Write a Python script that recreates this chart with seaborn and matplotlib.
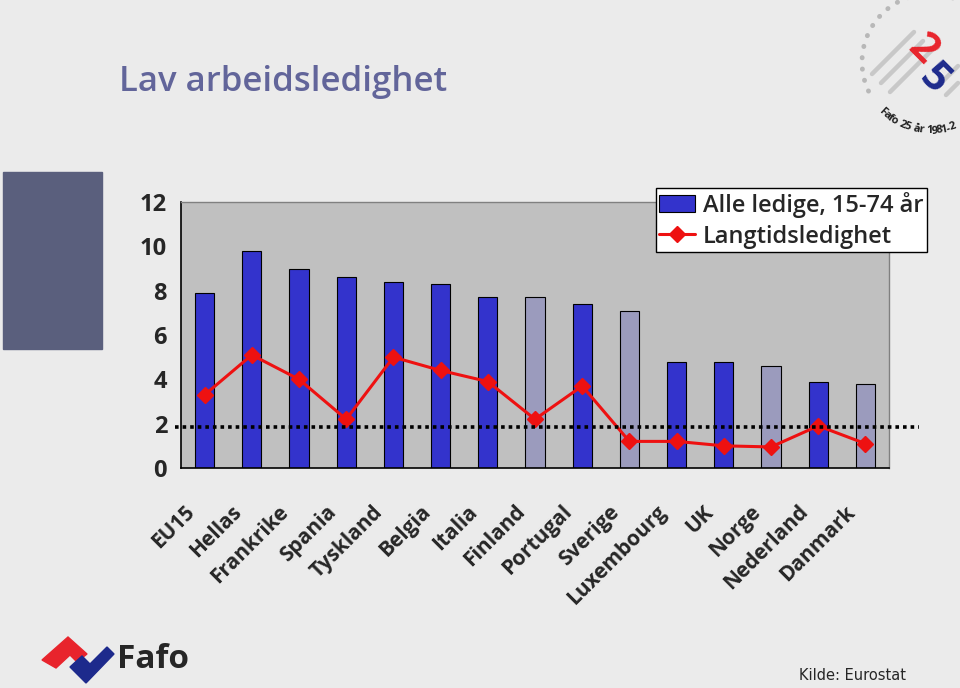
import matplotlib
matplotlib.use("Agg")
import matplotlib.pyplot as plt
import matplotlib.transforms as mtransforms
import numpy as np
import seaborn as sns
from matplotlib.lines import Line2D
from matplotlib.patches import Patch, Polygon, Rectangle, Arc

# Data
CATS = ["EU15", "Hellas", "Frankrike", "Spania", "Tyskland", "Belgia", "Italia",
        "Finland", "Portugal", "Sverige", "Luxembourg", "UK", "Norge",
        "Nederland", "Danmark"]
ALL_UNEMP = [7.9, 9.8, 9.0, 8.6, 8.4, 8.3, 7.7, 7.7, 7.4, 7.1, 4.8, 4.8, 4.6, 3.9, 3.8]
LONG_TERM = [3.3, 5.1, 4.0, 2.2, 5.0, 4.4, 3.9, 2.2, 3.7, 1.2, 1.2, 1.0, 0.95, 1.9, 1.1]
NORDIC = ["Finland", "Sverige", "Norge", "Danmark"]
REF_LEVEL = 1.85
YTICKS = [0, 2, 4, 6, 8, 10, 12]

BG = "#ebebeb"
PLOT_BG = "#c0c0c0"
BLUE = "#3333cc"
LIGHT = "#9b9bbd"
RED = "#ee1111"
TITLE = "#62659a"
W, H = 960, 688


def fx(x):
    return x / W


def fy(y):
    return 1 - y / H


sns.set_style("white")
plt.rcParams["font.family"] = ["Open Sans", "DejaVu Sans"]

fig = plt.figure(figsize=(9.6, 6.88), dpi=100, facecolor=BG)
ax = fig.add_axes([fx(181), fy(468), 708 / W, 266 / H])
ax.set_facecolor(PLOT_BG)

colors = [LIGHT if c in NORDIC else BLUE for c in CATS]
sns.barplot(x=CATS, y=ALL_UNEMP, hue=CATS, palette=colors, legend=False,
            width=0.41, edgecolor="black", linewidth=0.8, saturation=1, ax=ax)
ax.plot(np.arange(len(CATS)), LONG_TERM, color=RED, lw=2.2, marker="D",
        ms=8.5, zorder=4)
ax.axhline(REF_LEVEL, xmin=-0.008, xmax=1.042, color="black", lw=2.6,
           ls=(0, (1, 1.1)), clip_on=False, zorder=5)

ax.set_xlim(-0.5, len(CATS) - 0.5)
ax.set_ylim(0, 12)
ax.set_yticks(YTICKS)
ax.set_yticklabels([str(v) for v in YTICKS], fontsize=17, fontweight="bold")
ax.set_xticks(np.arange(len(CATS)))
ax.set_xticklabels(CATS, rotation=45, ha="right", va="top", fontsize=15,
                   fontweight="bold")
ax.set_xticks(np.arange(len(CATS) + 1) - 0.5, minor=True)
ax.tick_params(axis="x", which="major", length=0, pad=24)
ax.tick_params(axis="x", which="minor", length=10, direction="inout", width=1)
ax.tick_params(axis="y", length=10, direction="inout", width=1, pad=5)
shift = mtransforms.ScaledTranslation(-0.06, 0, fig.dpi_scale_trans)
for lbl in ax.get_xticklabels():
    lbl.set_transform(lbl.get_transform() + shift)
for s in ("left", "bottom"):
    ax.spines[s].set_color("black")
    ax.spines[s].set_linewidth(1.2)
for s in ("top", "right"):
    ax.spines[s].set_color("#808080")
    ax.spines[s].set_linewidth(1)
ax.set_xlabel("")
ax.set_ylabel("")

handles = [Patch(facecolor=BLUE, edgecolor="black", lw=0.8),
           Line2D([], [], color=RED, lw=2.2, marker="D", ms=8.5)]
leg = fig.legend(handles, ["Alle ledige, 15-74 år", "Langtidsledighet"],
                 loc="upper right", bbox_to_anchor=(fx(927), fy(188)),
                 frameon=True, fancybox=False, framealpha=1, edgecolor="black",
                 prop={"size": 17, "weight": "semibold"}, handlelength=1.5,
                 handletextpad=0.35, borderpad=0.15, labelspacing=0.3,
                 borderaxespad=0)
leg.get_frame().set_linewidth(1)

# Page decorations
fig.patches.append(Rectangle((fx(3), fy(349)), 99 / W, 177 / H,
                             transform=fig.transFigure, color="#5a5f7d"))
fig.text(fx(119), fy(82), "Lav arbeidsledighet", fontsize=25,
         fontweight="semibold", color=TITLE, va="center", ha="left")
fig.text(fx(906), fy(675), "Kilde: Eurostat", fontsize=10.5, ha="right",
         va="center", family=["Liberation Sans Narrow", "DejaVu Sans"])

# Fafo logo, bottom left
logo = [([(42, 660), (68, 637), (87, 654), (77, 662), (70, 655), (56, 668)], "#e8242c"),
        ([(70, 667), (82, 656), (90, 664), (107, 647), (114, 654), (86, 683)], "#1d2a8c")]
for pts, col in logo:
    fig.patches.append(Polygon([(fx(x), fy(y)) for x, y in pts], closed=True,
                               transform=fig.transFigure, color=col))
fig.text(fx(117), fy(660), "Fafo", fontsize=24, fontweight="bold",
         va="center", ha="left")

# Fafo 25 år logo, top right
cx, cy, r = 930, 62, 68
dots = Arc((fx(cx), fy(cy)), 2 * r / W, 2 * r / H, theta1=60, theta2=222,
           transform=fig.transFigure, ec="#b8b8b8", lw=3.5, ls=(0, (0.05, 2.3)))
dots.set_capstyle("round")
fig.patches.append(dots)
stripes = [((872, 74), (914, 32)), ((881, 83), (923, 41)), ((890, 92), (932, 50)),
           ((938, 86), (958, 66)), ((946, 95), (958, 83))]
for (x0, y0), (x1, y1) in stripes:
    fig.add_artist(Line2D([fx(x0), fx(x1)], [fy(y0), fy(y1)], color="#c8c8c8",
                          lw=3.2, transform=fig.transFigure))
fig.text(fx(922), fy(50), "2", color="#e8242c", fontsize=30,
         fontweight="bold", rotation=-45, ha="center", va="center")
fig.text(fx(934), fy(80), "5", color="#1d2a8c", fontsize=30,
         fontweight="bold", rotation=-45, ha="center", va="center")
arc_text = "Fafo 25 år 1981-2"
for i, ch in enumerate(arc_text):
    phi = 227 + i * 3.9
    a = np.deg2rad(phi)
    px = cx + (r + 1) * np.cos(a)
    py = cy - (r + 1) * np.sin(a)
    fig.text(fx(px), fy(py), ch, fontsize=8, fontweight="bold",
             rotation=phi + 90, ha="center", va="center", color="#222222")

fig.savefig("out.png", dpi=100, facecolor=BG)
